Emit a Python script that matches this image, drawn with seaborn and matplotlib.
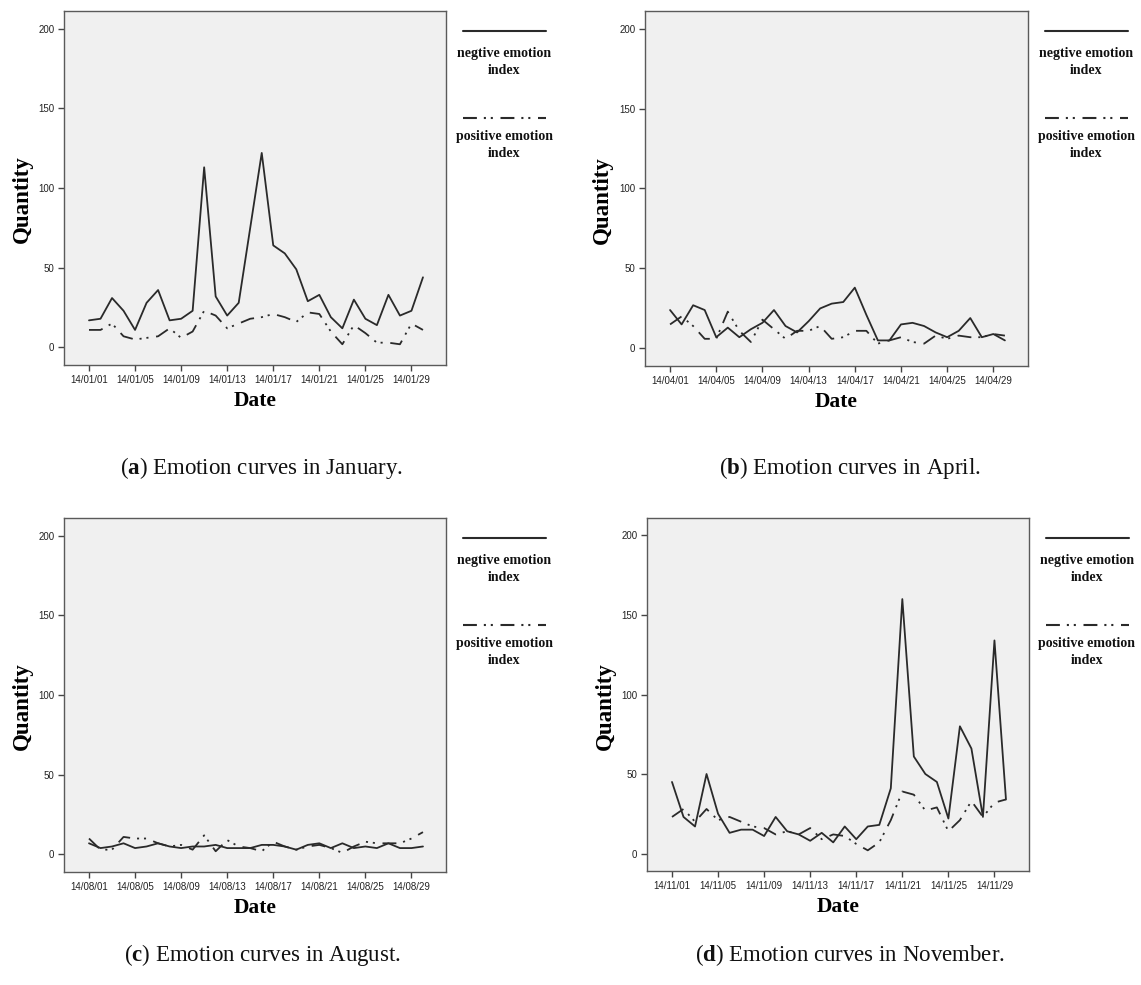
import numpy as np
import pandas as pd
import matplotlib
matplotlib.use("Agg")
import matplotlib.pyplot as plt
from matplotlib.lines import Line2D
import seaborn as sns

# ---------------- data ----------------
days = list(range(1, 31))
tick_days = [1, 5, 9, 13, 17, 21, 25, 29]

jan_neg = [17, 18, 31, 23, 11, 28, 36, 17, 18, 23, 113, 32, 20, 28, 75, 122, 64, 59, 49, 29,
           33, 19, 12, 30, 18, 14, 33, 20, 23, 44]
jan_pos = [11, 11, 15, 7, 5, 6, 7, 12, 6, 10, 23, 20, 12, 15, 18, 19, 21, 19, 16, 22,
           21, 10, 2, 14, 9, 3, 3, 2, 15, 11]

apr_neg = [24, 15, 27, 24, 7, 13, 7, 12, 16, 24, 14, 10, 17, 25, 28, 29, 38, 21, 5, 5,
           15, 16, 14, 10, 7, 11, 19, 7, 9, 5]
apr_pos = [15, 20, 14, 6, 6, 23, 11, 4, 18, 12, 6, 11, 11, 14, 6, 7, 11, 11, 3, 5,
           7, 4, 3, 8, 6, 8, 7, 7, 9, 8]

aug_neg = [7, 4, 5, 7, 4, 5, 7, 5, 4, 5, 5, 6, 4, 4, 4, 6, 6, 5, 3, 6,
           7, 4, 7, 4, 5, 4, 7, 4, 4, 5]
aug_pos = [10, 3, 3, 11, 10, 10, 7, 5, 6, 3, 12, 2, 9, 5, 4, 2, 8, 5, 3, 5,
           6, 4, 1, 5, 8, 7, 7, 7, 10, 14]

nov_neg = [45, 23, 17, 50, 25, 13, 15, 15, 11, 23, 14, 12, 8, 13, 7, 17, 9, 17, 18, 41,
           160, 61, 50, 45, 22, 80, 66, 23, 134, 34]
nov_pos = [23, 28, 20, 28, 21, 23, 20, 17, 16, 12, 14, 12, 16, 9, 12, 11, 6, 2, 7, 21,
           39, 37, 27, 29, 14, 21, 33, 23, 32, 34]

months = ["01", "04", "08", "11"]
month_names = ["January", "April", "August", "November"]
letters = ["a", "b", "c", "d"]
neg_series = [jan_neg, apr_neg, aug_neg, nov_neg]
pos_series = [jan_pos, apr_pos, aug_pos, nov_pos]
y_ticks = [0, 50, 100, 150, 200]
legend_labels = ["negtive emotion\nindex", "positive emotion\nindex"]

# ---------------- style ----------------
sns.set_style("ticks")
plt.rcParams["font.family"] = ["Liberation Sans", "DejaVu Sans"]
plt.rcParams["lines.scale_dashes"] = False
plt.rcParams["mathtext.fontset"] = "custom"
plt.rcParams["mathtext.rm"] = "Liberation Serif"
plt.rcParams["mathtext.bf"] = "Liberation Serif:bold"

W, H = 1141, 985
fig = plt.figure(figsize=(W / 100, H / 100), dpi=100)
fig.patch.set_facecolor("white")

DASHDOT = (10, 5, 1.5, 3.5, 1.5, 5.5)
LINE_COLOR = "#2a2a2a"

# axes boxes in pixels: left, top, right, bottom
boxes = [(64, 11, 446, 365), (645, 11, 1028, 366),
         (64, 518, 446, 872), (647, 518, 1029, 871)]
caption_x = [262, 850, 262, 850]
caption_y = [468, 468, 955, 955]

def px2fig(x, y):
    return x / W, 1 - y / H

for i in range(4):
    l, t, r, b = boxes[i]
    ax = fig.add_axes([l / W, 1 - b / H, (r - l) / W, (b - t) / H])
    ax.set_facecolor("#f0f0f0")
    df = pd.DataFrame({
        "day": days * 2,
        "value": neg_series[i] + pos_series[i],
        "series": ["neg"] * len(days) + ["pos"] * len(days),
    })
    sns.lineplot(data=df, x="day", y="value", style="series",
                 dashes={"neg": "", "pos": DASHDOT}, color=LINE_COLOR,
                 linewidth=1.3, legend=False, ax=ax, errorbar=None)
    ax.set_xlim(-1.17, 32.0)
    ax.set_ylim(-11, 211)
    ax.set_yticks(y_ticks)
    ax.set_yticklabels([str(v) for v in y_ticks])
    ax.set_xticks(tick_days)
    ax.set_xticklabels([f"14/{months[i]}/{d:02d}" for d in tick_days])
    ax.tick_params(axis="both", direction="out", length=4, width=1,
                   color="#444444", labelsize=7, labelcolor="#222222", pad=3)
    for s in ax.spines.values():
        s.set_color("#5a5a5a")
        s.set_linewidth(1.0)
        s.set_visible(True)
    ax.set_xlabel("Date", fontfamily="Liberation Serif", fontweight="bold",
                  fontsize=15.5, color="black")
    ax.xaxis.set_label_coords(0.5, -0.102)
    ax.xaxis.label.set_va("center")
    ax.set_ylabel("Quantity", fontfamily="Liberation Serif", fontweight="bold",
                  fontsize=16.5, color="black")
    ax.yaxis.set_label_coords(-0.11, 0.468)
    ax.yaxis.label.set_va("center")

    # legend drawn to the right of the axes
    x0, x1 = r + 17, r + 100
    xc = r + 58
    for k, (dy_line, dy_text, dsh) in enumerate([(20, 51, None), (107, 134, DASHDOT)]):
        fx0, fy = px2fig(x0, t + dy_line)
        fx1, _ = px2fig(x1, t + dy_line)
        ln = Line2D([fx0, fx1], [fy, fy], transform=fig.transFigure,
                    color=LINE_COLOR, linewidth=1.5)
        if dsh is not None:
            ln.set_dashes(DASHDOT)
        fig.add_artist(ln)
        tx, ty = px2fig(xc, t + dy_text)
        fig.text(tx, ty, legend_labels[k], ha="center", va="center",
                 fontfamily="Liberation Serif", fontweight="bold", fontsize=10,
                 linespacing=1.4, color="#111111")

    cx, cy = px2fig(caption_x[i], caption_y[i])
    fig.text(cx, cy, r"($\mathbf{" + letters[i] + r"}$) Emotion curves in " + month_names[i] + ".",
             ha="center", va="center", fontfamily="Liberation Serif", fontsize=16.5,
             color="#111111")

fig.savefig("out.png", dpi=100, facecolor="white")
